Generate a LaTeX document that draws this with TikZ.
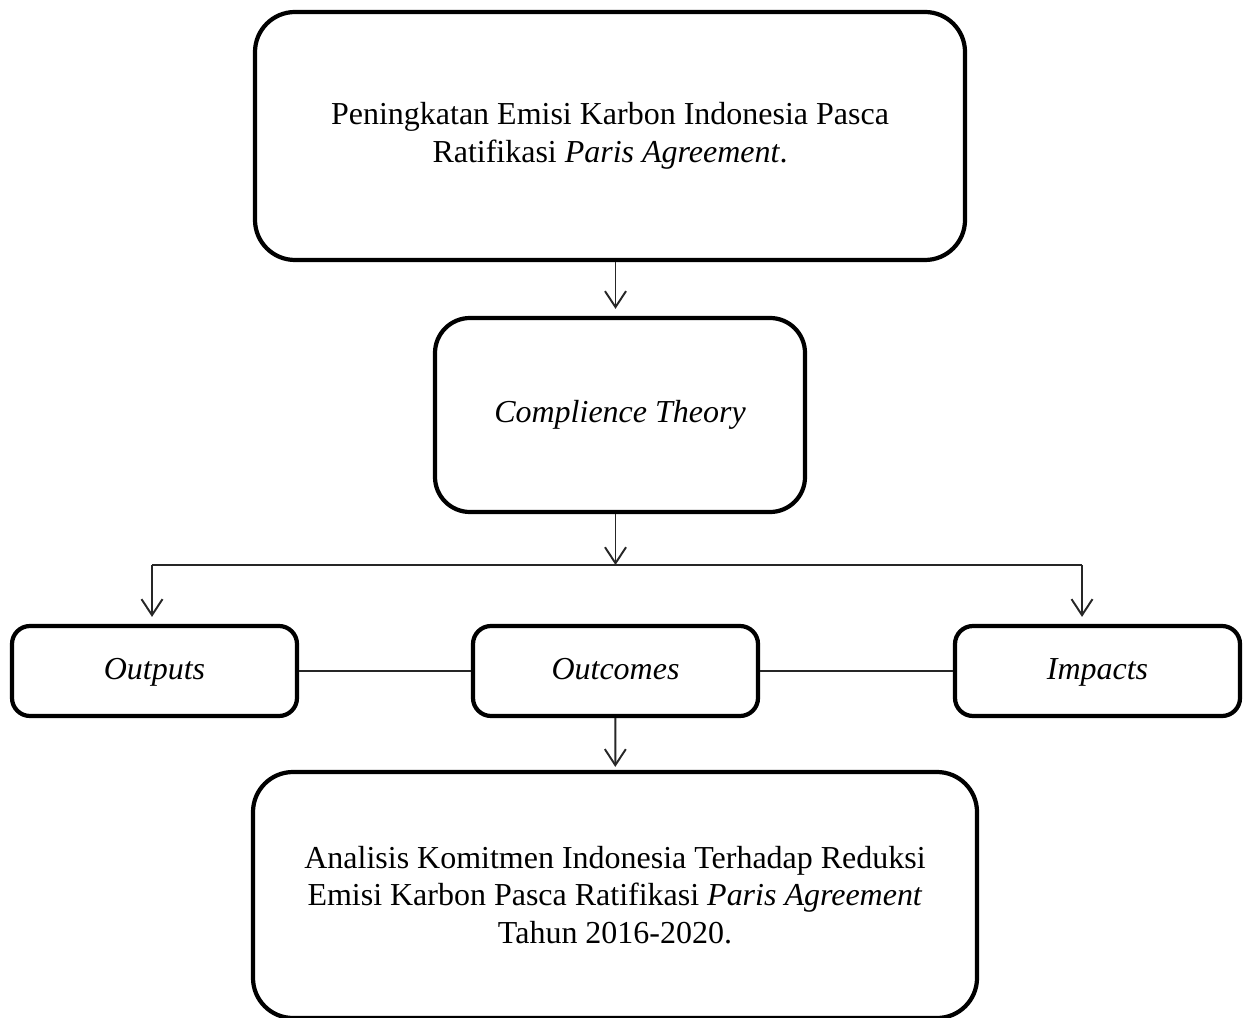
\documentclass[tikz,border=0pt]{standalone}
\usepackage{fontspec}
\setmainfont{Liberation Serif}
\usetikzlibrary{arrows.meta,positioning}

\begin{document}
\begin{tikzpicture}[
  box/.style={draw, line width=2.4pt, rounded corners=#1, align=center,
    font=\fontsize{18.2}{21.5}\selectfont},
  box/.default=0.8cm,
  smallbox/.style={box=0.36cm, minimum width=5.7cm, minimum height=1.8cm,
    text height=2.8ex, text depth=0.6ex},
  conn/.style={line width=1.1pt, draw=black!85},
  arr/.style={conn, -{Straight Barb[length=0.32cm,width=0.42cm,line width=1.1pt]}, shorten >=0.14cm}
]
\def\W{24.86} % page width
\def\H{20.36} % page height
\useasboundingbox (0,0) rectangle (\W,-\H);

\node[box, minimum width=14.2cm, minimum height=4.96cm] (problem) at (12.2,-2.72)
  {Peningkatan Emisi Karbon Indonesia Pasca\\Ratifikasi \textit{Paris Agreement}.};
\node[box=0.7cm, minimum width=7.4cm, minimum height=3.88cm] (theory) at (12.4,-8.3)
  {\textit{Complience Theory}};
\node[smallbox] (outputs) at (3.09,-13.42) {\textit{Outputs}};
\node[smallbox] (outcomes) at (12.31,-13.42) {\textit{Outcomes}};
\node[smallbox] (impacts) at (21.95,-13.42) {\textit{Impacts}};
\node[box, minimum width=14.48cm, minimum height=4.92cm] (result) at (12.3,-17.9)
  {Analisis Komitmen Indonesia Terhadap Reduksi\\Emisi Karbon Pasca Ratifikasi \textit{Paris Agreement}\\Tahun 2016-2020.};

% branching line
\coordinate (split) at (12.31,-11.3);
\coordinate (lft) at (3.04,-11.3);
\coordinate (rgt) at (21.64,-11.3);

\draw[arr] (problem.south -| outcomes.center) -- (theory.north -| outcomes.center);
\draw[arr, shorten >=0pt] (theory.south -| outcomes.center) -- (split);
\draw[conn] (lft) -- (rgt);
\draw[arr] (lft) -- (lft |- outputs.north);
\draw[arr] (rgt) -- (rgt |- impacts.north);
\draw[conn] (outputs) -- (outcomes);
\draw[conn] (outcomes) -- (impacts);
\draw[arr, shorten >=0.06cm] (outcomes) -- (result);
\end{tikzpicture}
\end{document}
